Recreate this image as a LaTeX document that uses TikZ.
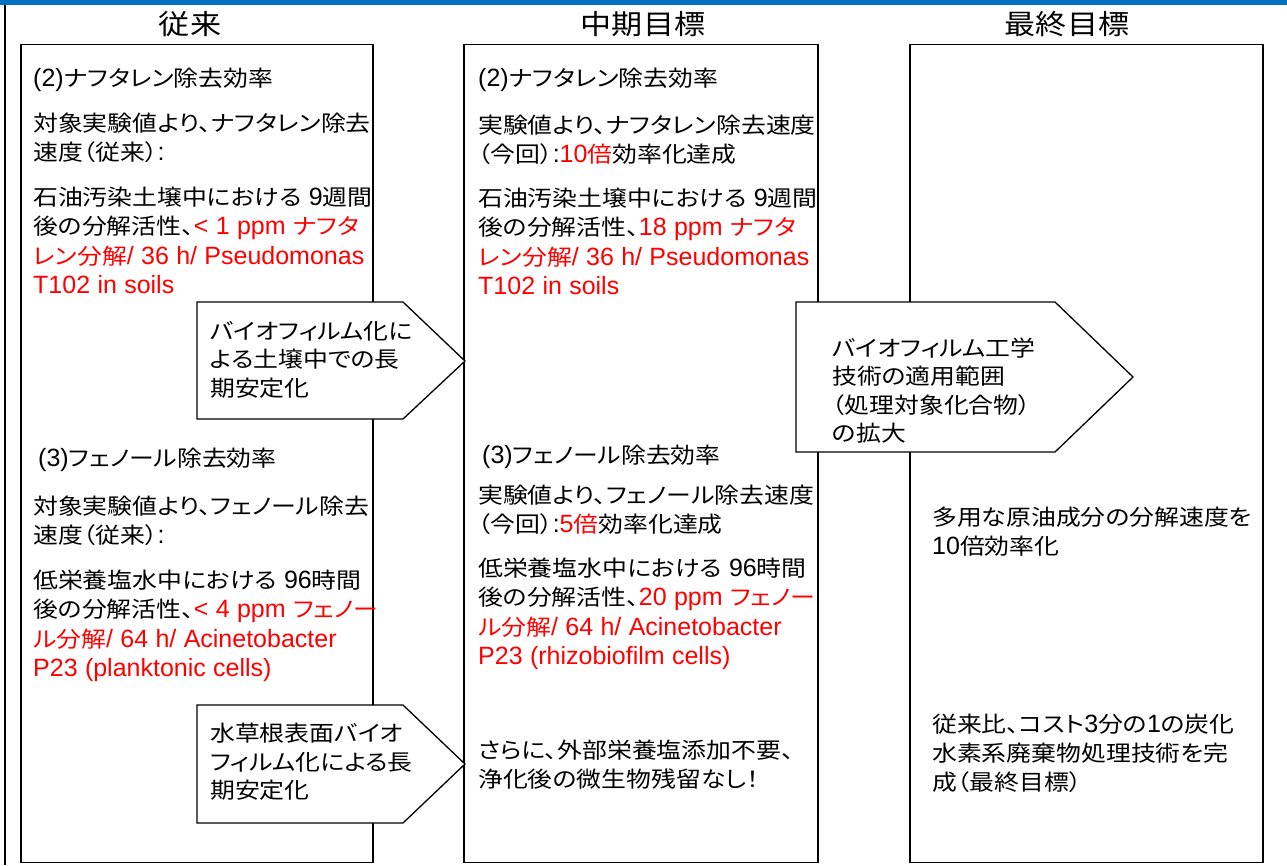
\documentclass[tikz,border=0pt]{standalone}
\usepackage{fontspec}
\setmainfont{Noto Sans CJK JP}[FakeStretch=1.13,RawFeature=+palt]
\newfontfamily\latfont{Liberation Sans}
\newcommand\bodyfont{\fontsize{22}{29.3}\selectfont}
\newcommand\arrfont{\fontsize{22}{28.5}\selectfont}
\newcommand\titfont{\fontsize{27.5}{30}\selectfont}
\newcommand\latn[1]{{\fontsize{25}{29.3}\latfont #1}}
\newcommand\rd[1]{\textcolor{red}{#1}}
\definecolor{topblue}{HTML}{0070C0}
\tikzset{
  colbox/.style={draw, line width=1.3pt, fill=white, inner sep=0pt},
  arrshape/.style={draw, line width=1.3pt, fill=white, line join=miter},
  txt/.style={anchor=base west, inner sep=0pt, text width=400pt, align=left, font=\bodyfont},
  atxt/.style={anchor=base west, inner sep=0pt, text width=300pt, align=left, font=\arrfont},
  title/.style={anchor=base, inner sep=0pt, font=\titfont},
}
\begin{document}
\begin{tikzpicture}[x=1pt,y=-1pt]
\useasboundingbox (0,0) rectangle (1287,865);
\fill[white] (0,0) rectangle (1287,865);
\fill[topblue] (0,0) rectangle (1287,5);
\draw[line width=1.3pt] (5,5) -- (5,865);

% column boxes
\node[colbox, minimum width=352pt, minimum height=818pt] (c1) at (197,453.5) {};
\node[colbox, minimum width=354pt, minimum height=818pt] (c2) at (641,453.5) {};
\node[colbox, minimum width=353pt, minimum height=818pt] (c3) at (1086.5,453.5) {};

% titles
\node[title] (t1) at (190,34) {従来};
\node[title] (t2) at (643,34) {中期目標};
\node[title] (t3) at (1067,34) {最終目標};

% arrow shapes
\draw[arrshape] (197,302) -- (403,302) -- (465,361) -- (403,419) -- (197,419) -- cycle;
\draw[arrshape] (197,705) -- (403,705) -- (465,764) -- (403,823) -- (197,823) -- cycle;
\draw[arrshape] (796,302) -- (1055,302) -- (1133,377) -- (1055,452) -- (796,452) -- cycle;

% column 1
\node[txt] (b1h) at (33,86) {\latn{(2)}ナフタレン除去効率};
\node[txt] (b1a) at (33,131.5) {対象実験値より、ナフタレン除去\\速度（従来）\latn{:}};
\node[txt] (b1b) at (33,205.5) {石油汚染土壌中における\latn{ 9}週間\\後の分解活性、\rd{\latn{< 1 ppm }ナフタ}\\\rd{レン分解\latn{/ 36 h/ Pseudomonas}}\\\rd{\latn{T102 in soils}}};
\node[txt] (b1h2) at (38,466) {\latn{(3)}フェノール除去効率};
\node[txt] (b1c) at (33,514.5) {対象実験値より、フェノール除去\\速度（従来）\latn{:}};
\node[txt] (b1d) at (33,588.5) {低栄養塩水中における\latn{ 96}時間\\後の分解活性、\rd{\latn{< 4 ppm }フェノー}\\\rd{ル分解\latn{/ 64 h/ Acinetobacter}}\\\rd{\latn{P23 (planktonic cells)}}};

% column 2
\node[txt] (b2h) at (478,86) {\latn{(2)}ナフタレン除去効率};
\node[txt] (b2a) at (478,133) {実験値より、ナフタレン除去速度\\（今回）\latn{:}\rd{\latn{10}倍}効率化達成};
\node[txt] (b2b) at (478,206.5) {石油汚染土壌中における\latn{ 9}週間\\後の分解活性、\rd{\latn{18 ppm }ナフタ}\\\rd{レン分解\latn{/ 36 h/ Pseudomonas}}\\\rd{\latn{T102 in soils}}};
\node[txt] (b2h2) at (482,463) {\latn{(3)}フェノール除去効率};
\node[txt] (b2c) at (478,503.5) {実験値より、フェノール除去速度\\（今回）\latn{:}\rd{\latn{5}倍}効率化達成};
\node[txt] (b2d) at (478,576.5) {低栄養塩水中における\latn{ 96}時間\\後の分解活性、\rd{\latn{20 ppm }フェノー}\\\rd{ル分解\latn{/ 64 h/ Acinetobacter}}\\\rd{\latn{P23 (rhizobiofilm cells)}}};
\node[txt] (b2e) at (478,758.5) {さらに、外部栄養塩添加不要、\\浄化後の微生物残留なし！};

% column 3
\node[txt] (b3a) at (932,525.5) {多用な原油成分の分解速度を\\\latn{10}倍効率化};
\node[txt] (b3b) at (932,732) {従来比、コスト\latn{3}分の\latn{1}の炭化\\水素系廃棄物処理技術を完\\成（最終目標）};

% arrow texts
\node[atxt] (a1t) at (210,339) {バイオフィルム化に\\よる土壌中での長\\期安定化};
\node[atxt] (a2t) at (210,741.5) {水草根表面バイオ\\フィルム化による長\\期安定化};
\node[atxt] (a3t) at (832,356) {バイオフィルム工学\\技術の適用範囲\\（処理対象化合物）\\の拡大};
\end{tikzpicture}
\end{document}
